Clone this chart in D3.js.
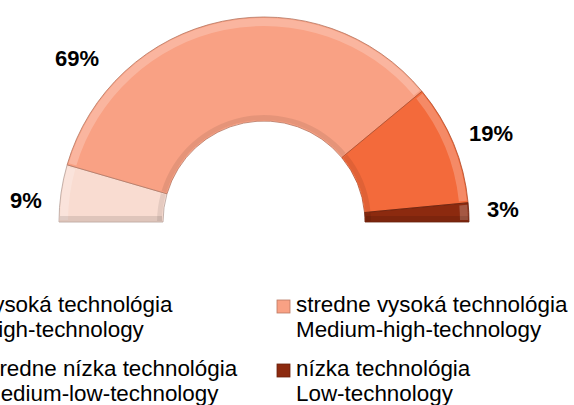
<!DOCTYPE html>
<html>
<head>
<meta charset="utf-8">
<script src="https://cdn.jsdelivr.net/npm/d3@7"></script>
<style>
    html, body { margin: 0; padding: 0; background: #fff; overflow: hidden; }
    svg { display: block; font-family: "Liberation Sans", Arial, sans-serif; }
</style>
</head>
<body>
<svg id="canvas" width="574" height="405"></svg>
<script>

// Chart data
const categoriesSk = ["vysoká technológia", "stredne vysoká technológia", "stredne nízka technológia", "nízka technológia"];
const categoriesEn = ["High-technology", "Medium-high-technology", "Medium-low-technology", "Low-technology"];
const shares = [9, 69, 19, 3];

// Styling
const colors = ["#f9dcd1", "#f9a184", "#f36a3b", "#8c2a0f"];
const labelPos = [[26, 208], [77, 66], [491, 141], [503, 217]];

const centre = [264, 222],
      outerR = 205,
      innerR = 101;

const svg = d3.select("#canvas");

// Half doughnut: left (-90deg) over the top to right (+90deg)
const pie = d3.pie()
    .sort(null)
    .value(d => d)
    .startAngle(-Math.PI / 2)
    .endAngle(Math.PI / 2);

const arcs = pie(shares);

const arc = d3.arc().innerRadius(innerR).outerRadius(outerR);
const hiArc = d3.arc().innerRadius(outerR - 9).outerRadius(outerR - 1);
const loArc = d3.arc().innerRadius(innerR + 1).outerRadius(innerR + 6);

const g = svg.append("g").attr("transform", `translate(${centre})`);

const slices = g.selectAll("g.slice")
    .data(arcs)
    .enter()
    .append("g")
    .classed("slice", true);

// Base fill
slices.append("path")
    .attr("d", arc)
    .attr("fill", (d, i) => colors[i])
    .attr("stroke", (d, i) => d3.color(colors[i]).darker(0.9))
    .attr("stroke-width", 0.8);

// Bevel highlight along the outer edge
slices.append("path")
    .attr("d", d => hiArc({startAngle: d.startAngle + 0.01, endAngle: d.endAngle - 0.01}))
    .attr("fill", "#fff")
    .attr("opacity", 0.22);

// Bevel shade along the inner edge
slices.append("path")
    .attr("d", d => loArc({startAngle: d.startAngle + 0.01, endAngle: d.endAngle - 0.01}))
    .attr("fill", "#000")
    .attr("opacity", 0.08);

// Shade along the flat bottom edges
const yEdge = d3.scaleLinear().domain([0, 1]).range([0, -6]);
[0, arcs.length - 1].forEach(i => {
    const side = i === 0 ? -1 : 1;
    g.append("rect")
        .attr("x", side < 0 ? -outerR + 1 : innerR + 1)
        .attr("y", yEdge(1))
        .attr("width", outerR - innerR - 2)
        .attr("height", -yEdge(1) - 0.5)
        .attr("fill", "#000")
        .attr("opacity", 0.1);
});

// Percentage labels
svg.selectAll("text.pct")
    .data(shares)
    .enter()
    .append("text")
    .classed("pct", true)
    .attr("x", (d, i) => labelPos[i][0])
    .attr("y", (d, i) => labelPos[i][1])
    .attr("text-anchor", "middle")
    .attr("font-size", 22)
    .attr("font-weight", "bold")
    .attr("fill", "#000")
    .text(d => `${d}%`);

// Legend: two columns, two rows
const colX = d3.scalePoint().domain([0, 1]).range([-18, 296]);
const rowY = d3.scalePoint().domain([0, 1]).range([312, 376]);

const items = svg.selectAll("g.legend")
    .data(categoriesSk)
    .enter()
    .append("g")
    .classed("legend", true)
    .attr("transform", (d, i) => `translate(${colX(i % 2)},${rowY(Math.floor(i / 2))})`);

items.append("rect")
    .attr("x", -19)
    .attr("y", -12)
    .attr("width", 13)
    .attr("height", 13)
    .attr("fill", (d, i) => colors[i])
    .attr("stroke", (d, i) => d3.color(colors[i]).darker(0.8))
    .attr("stroke-width", 0.8);

items.append("text")
    .attr("font-size", 22.4)
    .attr("fill", "#000")
    .text(d => d);

items.append("text")
    .attr("y", 25)
    .attr("font-size", 22.4)
    .attr("fill", "#000")
    .text((d, i) => categoriesEn[i]);

</script>
</body>
</html>
